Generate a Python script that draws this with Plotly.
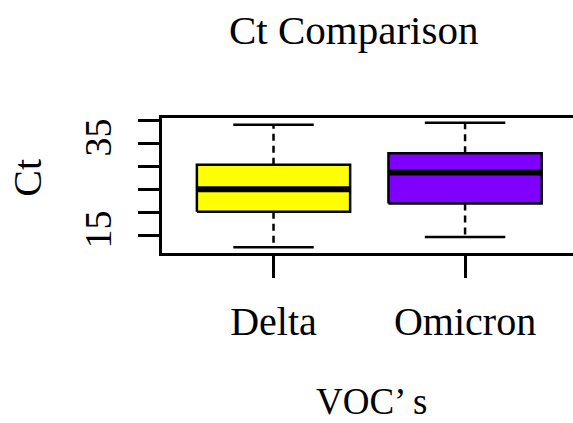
import plotly.graph_objects as go

# ---- data ----
categories = ["Delta", "Omicron"]
lower_whisker = [12.4, 14.6]
q1 = [20.1, 21.9]
median = [25.0, 28.6]
q3 = [30.3, 32.8]
upper_whisker = [39.0, 39.4]
box_colors = ["#FFFF00", "#7F00FF"]
y_tick_values = [15, 20, 25, 30, 35, 40]
y_tick_labels = ["15", "", "", "", "35", ""]
title_text = "Ct Comparison"
x_title = "VOC\u2019 s"
y_title = "Ct"

# ---- layout geometry (pixels) ----
WIDTH, HEIGHT = 573, 423
L, R, T, B = 162, 0, 118, 170
PW = WIDTH - L - R
PH = HEIGHT - T - B
FONT = "Liberation Serif, Times New Roman, serif"

def paper_x(px):
    return (px - L) / PW

def paper_y(py):
    return (HEIGHT - B - py) / PH

half_box = 0.4
half_cap = 0.21
positions = [i + 1 for i in range(len(categories))]

fig = go.Figure()
for i, xc in enumerate(positions):
    # dashed whiskers
    fig.add_trace(go.Scatter(x=[xc, xc], y=[q3[i], upper_whisker[i]], mode="lines",
                             line=dict(color="black", width=2.5, dash="7px,5px"),
                             hoverinfo="skip", showlegend=False))
    fig.add_trace(go.Scatter(x=[xc, xc], y=[q1[i], lower_whisker[i]], mode="lines",
                             line=dict(color="black", width=2.5, dash="7px,5px"),
                             hoverinfo="skip", showlegend=False))
    # caps
    for yv in (upper_whisker[i], lower_whisker[i]):
        fig.add_trace(go.Scatter(x=[xc - half_cap, xc + half_cap], y=[yv, yv], mode="lines",
                                 line=dict(color="black", width=2.5),
                                 hoverinfo="skip", showlegend=False))
    # box
    fig.add_trace(go.Scatter(
        x=[xc - half_box, xc + half_box, xc + half_box, xc - half_box, xc - half_box],
        y=[q1[i], q1[i], q3[i], q3[i], q1[i]],
        mode="lines", fill="toself", fillcolor=box_colors[i],
        line=dict(color="black", width=2.5), name=categories[i],
        hoverinfo="skip", showlegend=False))
    # median
    fig.add_trace(go.Scatter(x=[xc - half_box, xc + half_box], y=[median[i], median[i]],
                             mode="lines", line=dict(color="black", width=6),
                             hoverinfo="skip", showlegend=False))

x_lo = 1 - (273.3 - 161.7) / 191.7
x_hi = 1 + (WIDTH - 273.3) / 191.7

fig.update_layout(
    width=WIDTH, height=HEIGHT,
    margin=dict(l=L, r=R, t=T, b=B),
    paper_bgcolor="white", plot_bgcolor="white",
    showlegend=False,
    font=dict(family=FONT, color="black"),
    xaxis=dict(range=[x_lo, x_hi], tickvals=positions, ticktext=categories,
               showline=True, mirror=True, linecolor="black", linewidth=2.5,
               ticks="outside", ticklen=22, tickwidth=2.5, tickcolor="black",
               showgrid=False, zeroline=False,
               tickfont=dict(family=FONT, size=40, color="black"),
               ticklabelstandoff=9),
    yaxis=dict(range=[11.14, 40.45], tickvals=y_tick_values, ticktext=y_tick_labels,
               showline=True, mirror=False, linecolor="black", linewidth=2.5,
               ticks="outside", ticklen=21, tickwidth=2.5, tickcolor="black",
               showgrid=False, zeroline=False, tickangle=-90,
               tickfont=dict(family=FONT, size=38, color="black"),
               ticklabelstandoff=12),
    annotations=[
        dict(text=title_text, xref="paper", yref="paper",
             x=paper_x(353), y=paper_y(29.5), xanchor="center", yanchor="middle",
             showarrow=False, font=dict(family=FONT, size=41, color="black")),
        dict(text=x_title, xref="paper", yref="paper", borderpad=0,
             x=paper_x(371), y=paper_y(422.5), xanchor="center", yanchor="bottom",
             showarrow=False, font=dict(family=FONT, size=37, color="black")),
        dict(text=y_title, xref="paper", yref="paper", textangle=-90,
             x=paper_x(27.5), y=paper_y(178.3), xanchor="center", yanchor="middle",
             showarrow=False, font=dict(family=FONT, size=40, color="black")),
    ],
)

fig.write_html("out.html")
